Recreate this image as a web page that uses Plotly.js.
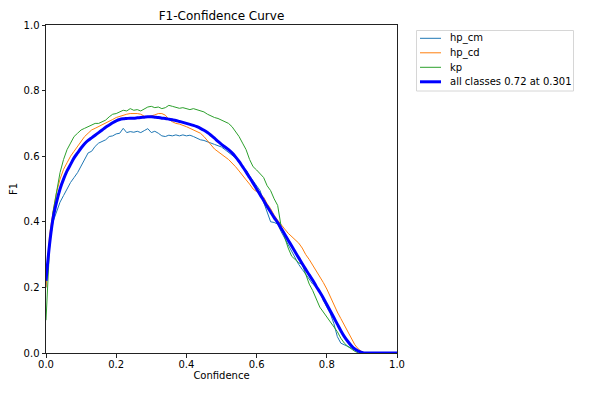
<!DOCTYPE html>
<html>
<head>
<meta charset="utf-8">
<script src="https://cdn.plot.ly/plotly-3.0.1.min.js"></script>
<style>html,body{margin:0;padding:0;background:#fff;}#chart{width:590px;height:393px;}</style>
</head>
<body>
<div id="chart"></div>
<script>
// Confidence grid 0.00 .. 1.00 (step 0.01)
const confidence = Array.from({length: 101}, (_, i) => +(i / 100).toFixed(2));

const seriesNames = ["hp_cm", "hp_cd", "kp", "all classes 0.72 at 0.301"];

const hp_cm = [
  0.20,0.33,0.40,0.43,0.46,0.48,0.50,0.52,0.535,0.55,
  0.57,0.59,0.61,0.615,0.63,0.64,0.645,0.65,0.66,0.662,
  0.668,0.67,0.685,0.672,0.675,0.673,0.676,0.672,0.678,0.684,
  0.672,0.676,0.67,0.662,0.66,0.664,0.662,0.665,0.662,0.665,
  0.662,0.664,0.66,0.655,0.65,0.648,0.645,0.64,0.636,0.632,
  0.628,0.62,0.612,0.605,0.595,0.58,0.57,0.558,0.54,0.525,
  0.51,0.495,0.46,0.43,0.40,0.398,0.393,0.37,0.35,0.33,
  0.31,0.29,0.27,0.255,0.24,0.225,0.21,0.20,0.19,0.16,
  0.14,0.12,0.09,0.05,0.03,0.025,0.02,0.015,0.01,0.005,
  0,0,0,0,0,0,0,0,0,0,0
];

const hp_cd = [
  0.20,0.36,0.43,0.49,0.53,0.56,0.58,0.60,0.615,0.63,
  0.645,0.66,0.67,0.68,0.685,0.69,0.695,0.70,0.705,0.712,
  0.718,0.722,0.726,0.728,0.73,0.731,0.73,0.728,0.722,0.72,
  0.722,0.726,0.73,0.73,0.725,0.712,0.705,0.70,0.698,0.695,
  0.69,0.685,0.68,0.675,0.67,0.66,0.648,0.635,0.622,0.614,
  0.605,0.598,0.59,0.58,0.568,0.555,0.54,0.528,0.515,0.50,
  0.492,0.485,0.475,0.455,0.44,0.42,0.405,0.39,0.378,0.365,
  0.355,0.345,0.335,0.32,0.30,0.285,0.268,0.25,0.235,0.215,
  0.195,0.17,0.15,0.125,0.105,0.085,0.065,0.045,0.025,0.012,
  0.004,0,0,0,0,0,0,0,0,0,0
];

const kp = [
  0.10,0.32,0.43,0.49,0.55,0.59,0.62,0.64,0.66,0.67,
  0.68,0.685,0.69,0.695,0.70,0.70,0.705,0.71,0.72,0.728,
  0.73,0.735,0.74,0.738,0.745,0.74,0.742,0.738,0.745,0.75,
  0.752,0.748,0.75,0.745,0.748,0.755,0.752,0.75,0.746,0.748,
  0.744,0.742,0.745,0.742,0.74,0.735,0.728,0.722,0.718,0.715,
  0.71,0.705,0.70,0.69,0.675,0.66,0.64,0.62,0.59,0.568,
  0.558,0.545,0.535,0.51,0.495,0.47,0.45,0.385,0.35,0.32,
  0.295,0.285,0.275,0.27,0.24,0.21,0.19,0.165,0.14,0.125,
  0.11,0.095,0.08,0.065,0.045,0.03,0.02,0.012,0.005,0,
  0,0,0,0,0,0,0,0,0,0,0
];

const allClasses = [
  0.22,0.33,0.41,0.46,0.50,0.53,0.555,0.575,0.595,0.61,
  0.625,0.638,0.648,0.656,0.664,0.672,0.68,0.688,0.695,0.702,
  0.708,0.712,0.714,0.715,0.716,0.716,0.717,0.718,0.719,0.72,
  0.72,0.719,0.718,0.716,0.715,0.713,0.711,0.709,0.706,0.703,
  0.70,0.697,0.694,0.69,0.685,0.679,0.672,0.664,0.655,0.645,
  0.636,0.628,0.62,0.61,0.598,0.584,0.568,0.552,0.535,0.518,
  0.50,0.483,0.465,0.447,0.43,0.413,0.398,0.38,0.362,0.344,
  0.326,0.308,0.29,0.272,0.255,0.238,0.222,0.203,0.186,0.168,
  0.148,0.128,0.108,0.088,0.068,0.05,0.035,0.022,0.012,0.006,
  0.002,0,0,0,0,0,0,0,0,0,0
];

const colors = ["#1f77b4", "#ff7f0e", "#2ca02c", "#0000ff"];
const widths = [1, 1, 1, 3];
const values = [hp_cm, hp_cd, kp, allClasses];

const traces = values.map((v, i) => ({
  x: confidence, y: v, type: "scatter", mode: "lines",
  name: seriesNames[i], showlegend: false,
  line: Object.assign({color: colors[i], width: widths[i]}, i === 3 ? {shape: "spline", smoothing: 0.8} : {})
}));

// Layout geometry (pixels)
const W = 590, H = 393, L = 46, R = 397, T = 25, B = 353;
const px = x => (x - L) / (R - L);
const py = y => (B - y) / (B - T);

// Custom legend (matplotlib-like)
const shapes = [{
  type: "rect", xref: "paper", yref: "paper",
  x0: px(416.5), x1: px(573.5), y0: py(91), y1: py(30.5),
  line: {color: "#d6d6d6", width: 1}, fillcolor: "rgba(255,255,255,0.8)", layer: "above"
}];
const annotations = [];
const rowY = [38.3, 52.8, 67.3, 81.8];
seriesNames.forEach((name, i) => {
  shapes.push({type: "line", xref: "paper", yref: "paper",
    x0: px(420), x1: px(441), y0: py(rowY[i]), y1: py(rowY[i]),
    line: {color: colors[i], width: widths[i]}, layer: "above"});
  annotations.push({xref: "paper", yref: "paper", x: px(448), y: py(rowY[i]),
    xanchor: "left", yanchor: "middle", text: name, showarrow: false,
    font: {size: 10, color: "#000"}});
});

const axisCommon = {
  range: [0, 1], dtick: 0.2, tick0: 0, tickformat: ".1f",
  showgrid: false, zeroline: false, showline: true, mirror: true,
  linecolor: "#222", linewidth: 1, ticks: "outside", ticklen: 3.5,
  tickcolor: "#222", tickfont: {size: 10, color: "#000"}
};

const layout = {
  width: W, height: H,
  margin: {l: L, r: W - R, t: T, b: H - B, autoexpand: false},
  paper_bgcolor: "#fff", plot_bgcolor: "#fff",
  font: {family: "DejaVu Sans", size: 10, color: "#000"},
  title: {text: "F1-Confidence Curve", font: {size: 12, color: "#000"}, x: px(221.5) * (R - L) / W + L / W, xanchor: "center", y: 1 - 16 / H, yanchor: "middle"},
  xaxis: Object.assign({}, axisCommon, {ticklabelstandoff: -2, title: {text: "Confidence", font: {size: 10}, standoff: 3}}),
  yaxis: Object.assign({}, axisCommon, {title: {text: "F1", font: {size: 10}, standoff: 4}}),
  showlegend: false,
  shapes: shapes,
  annotations: annotations
};

Plotly.newPlot("chart", traces, layout, {displayModeBar: false, staticPlot: true});
</script>
</body>
</html>
